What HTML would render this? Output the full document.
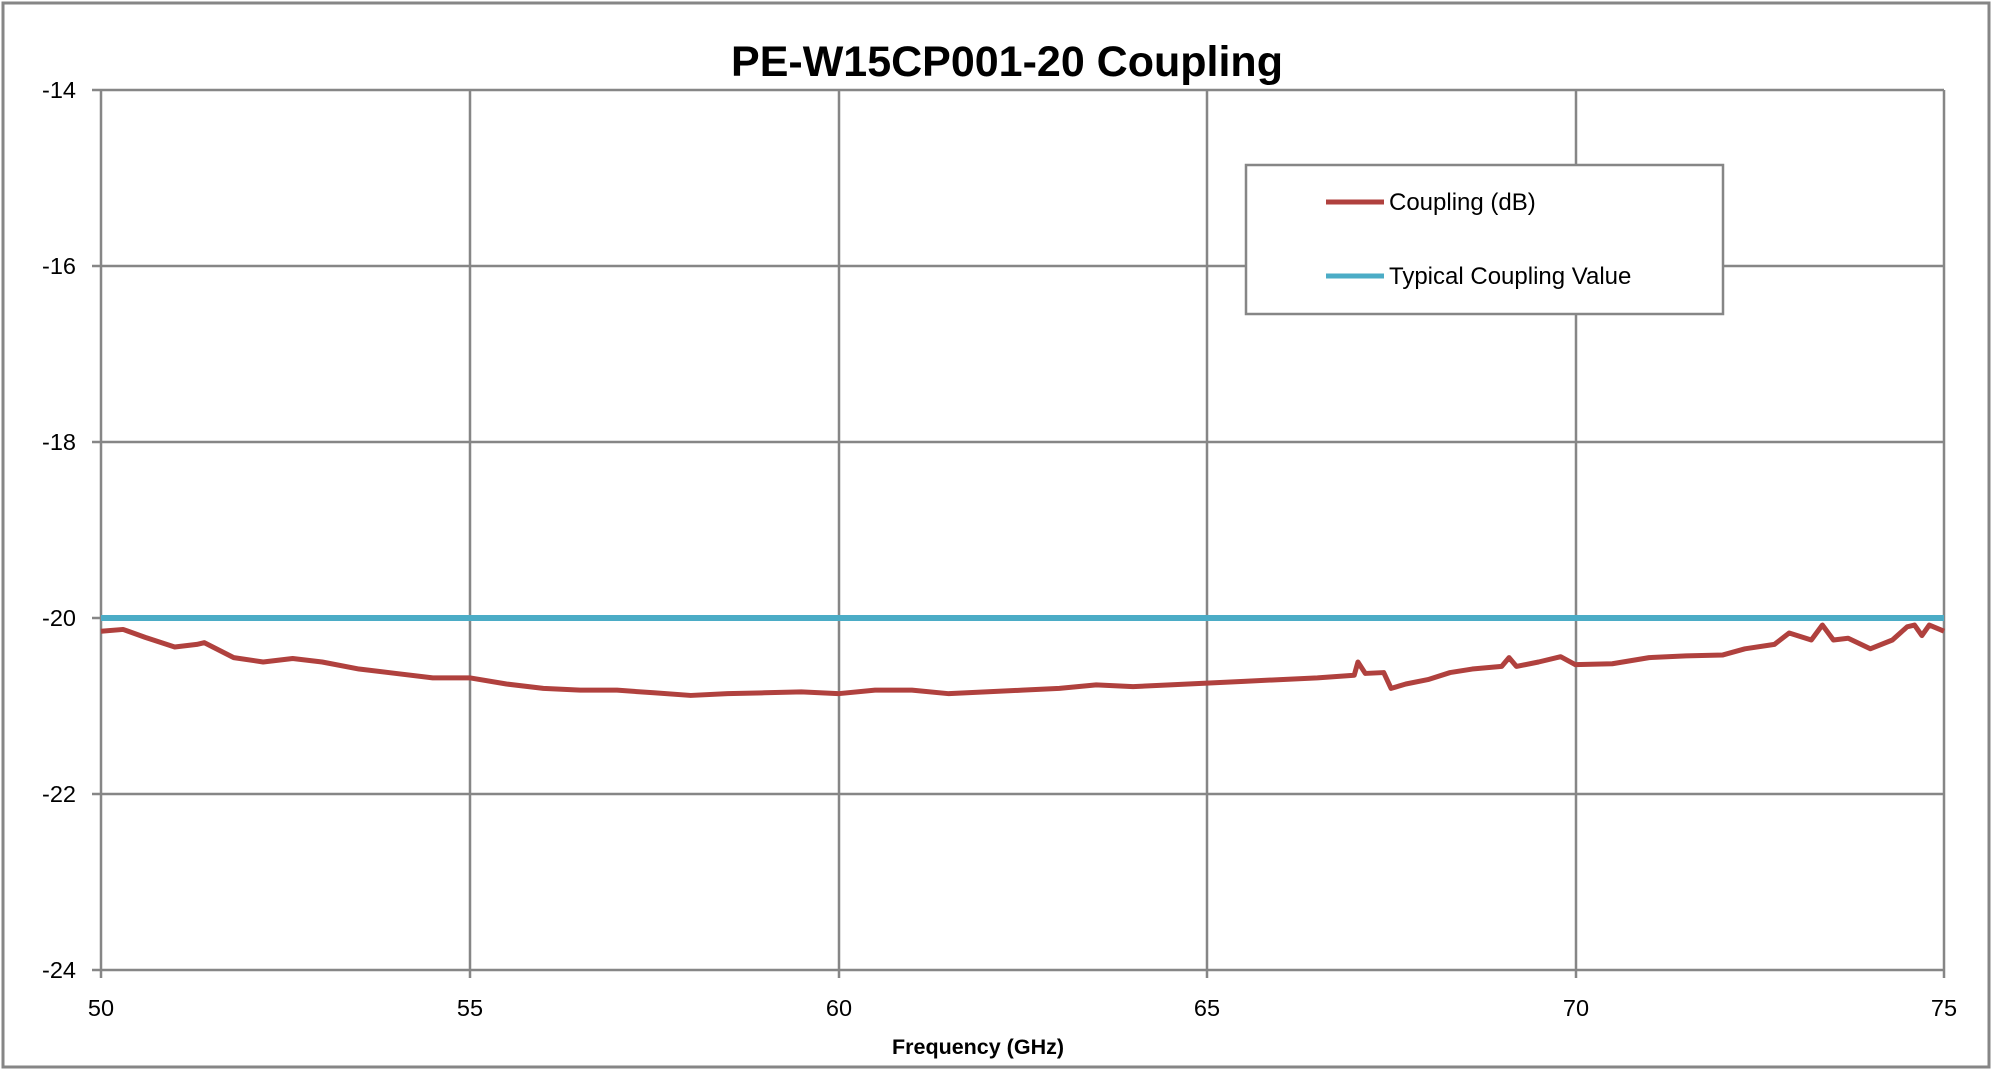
<!DOCTYPE html>
<html><head><meta charset="utf-8"><style>
html,body{margin:0;padding:0;background:#fff}
svg{display:block}
text{font-family:"Liberation Sans",sans-serif;fill:#000}
</style></head><body>
<svg width="1994" height="1071" viewBox="0 0 1994 1071" xmlns="http://www.w3.org/2000/svg">
<rect x="3" y="3" width="1986" height="1064" fill="#fff" stroke="#868686" stroke-width="3"/>
<text x="1007" y="76" font-size="43" font-weight="bold" text-anchor="middle">PE-W15CP001-20 Coupling</text>
<g stroke="#868686" stroke-width="2.5" fill="none">
<line x1="92" y1="90" x2="1944" y2="90"/>
<line x1="92" y1="266" x2="1944" y2="266"/>
<line x1="92" y1="442" x2="1944" y2="442"/>
<line x1="92" y1="618" x2="1944" y2="618"/>
<line x1="92" y1="794" x2="1944" y2="794"/>
<line x1="92" y1="970" x2="1944" y2="970"/>
<line x1="101" y1="90" x2="101" y2="978"/>
<line x1="470" y1="90" x2="470" y2="978"/>
<line x1="839" y1="90" x2="839" y2="978"/>
<line x1="1207" y1="90" x2="1207" y2="978"/>
<line x1="1576" y1="90" x2="1576" y2="978"/>
<line x1="1944" y1="90" x2="1944" y2="978"/>
</g>
<g font-size="23.5" text-anchor="end">
<text x="76" y="98">-14</text><text x="76" y="274">-16</text><text x="76" y="450">-18</text>
<text x="76" y="626">-20</text><text x="76" y="802">-22</text><text x="76" y="978">-24</text>
</g>
<g font-size="23.5" text-anchor="middle">
<text x="101" y="1016">50</text><text x="470" y="1016">55</text><text x="839" y="1016">60</text>
<text x="1207" y="1016">65</text><text x="1576" y="1016">70</text><text x="1944" y="1016">75</text>
</g>
<text x="978" y="1054" font-size="21.5" font-weight="bold" text-anchor="middle">Frequency (GHz)</text>
<line x1="101" y1="618" x2="1944" y2="618" stroke="#4BACC6" stroke-width="6"/>
<g transform="matrix(73.72,0,0,-88,-3585,-1142)">
<polyline vector-effect="non-scaling-stroke" fill="none" stroke="#B0413E" stroke-width="5" stroke-linejoin="round" points="50,-20.15 50.3,-20.13 50.6,-20.22 51,-20.33 51.3,-20.3 51.4,-20.28 51.8,-20.45 52.2,-20.5 52.6,-20.46 53,-20.5 53.5,-20.58 54,-20.63 54.5,-20.68 55,-20.68 55.5,-20.75 56,-20.8 56.5,-20.82 57,-20.82 57.5,-20.85 58,-20.88 58.5,-20.86 59,-20.85 59.5,-20.84 60,-20.86 60.5,-20.82 61,-20.82 61.5,-20.86 62,-20.84 62.5,-20.82 63,-20.8 63.5,-20.76 64,-20.78 64.5,-20.76 65,-20.74 65.5,-20.72 66,-20.7 66.5,-20.68 67,-20.65 67.05,-20.5 67.15,-20.63 67.4,-20.62 67.5,-20.8 67.7,-20.75 68,-20.7 68.3,-20.62 68.6,-20.58 69,-20.55 69.1,-20.45 69.2,-20.55 69.5,-20.5 69.8,-20.44 70,-20.53 70.5,-20.52 71,-20.45 71.5,-20.43 72,-20.42 72.3,-20.35 72.7,-20.3 72.9,-20.17 73.2,-20.25 73.35,-20.08 73.5,-20.25 73.7,-20.23 74,-20.35 74.3,-20.25 74.5,-20.1 74.6,-20.08 74.7,-20.2 74.8,-20.08 75,-20.15"/>
</g>
<rect x="1246" y="165" width="477" height="149" fill="#fff" stroke="#868686" stroke-width="2.5"/>
<line x1="1326" y1="202" x2="1384" y2="202" stroke="#B0413E" stroke-width="5"/>
<line x1="1326" y1="276" x2="1384" y2="276" stroke="#4BACC6" stroke-width="5"/>
<text x="1389" y="210" font-size="24">Coupling (dB)</text>
<text x="1389" y="284" font-size="24">Typical Coupling Value</text>
</svg>
</body></html>
